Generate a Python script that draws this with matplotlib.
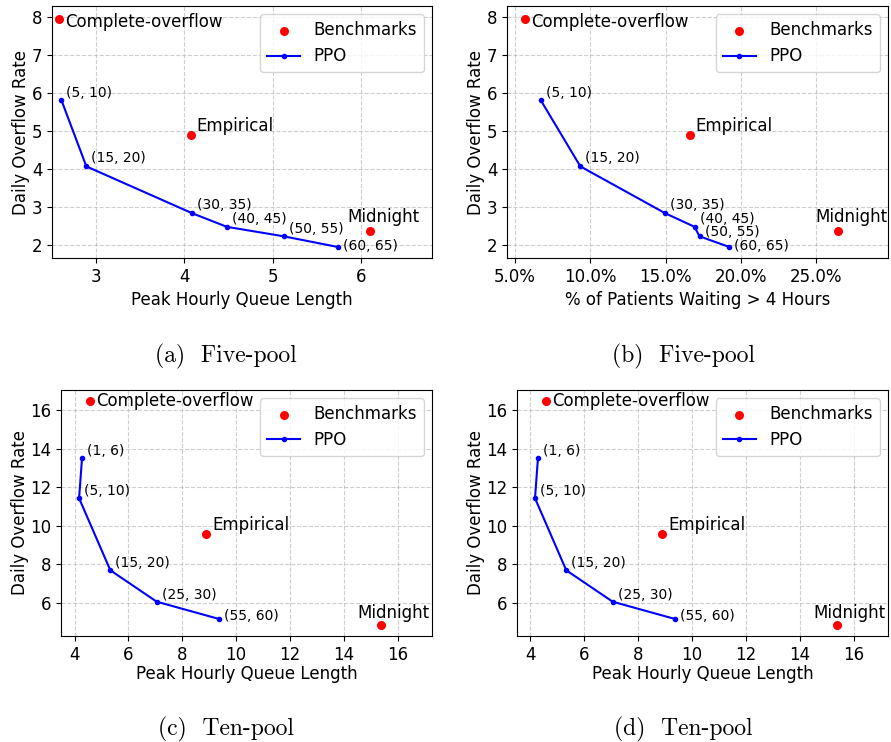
import matplotlib
matplotlib.use("Agg")
import matplotlib.pyplot as plt
from matplotlib.ticker import MultipleLocator, PercentFormatter

# ---------------- data ----------------
bench_names = ["Complete-overflow", "Empirical", "Midnight"]

# Five-pool
five_bench_queue = [2.578, 4.07, 6.10]
five_bench_wait = [0.0566, 0.1659, 0.2646]
five_bench_overflow = [7.97, 4.90, 2.37]

five_ppo_labels = ["(5, 10)", "(15, 20)", "(30, 35)", "(40, 45)", "(50, 55)", "(60, 65)"]
five_ppo_queue = [2.608, 2.891, 4.085, 4.48, 5.124, 5.734]
five_ppo_wait = [0.0670, 0.0934, 0.1496, 0.1692, 0.1725, 0.1923]
five_ppo_overflow = [5.83, 4.08, 2.85, 2.49, 2.24, 1.96]

# Ten-pool
ten_bench_queue = [4.57, 8.88, 15.38]
ten_bench_overflow = [16.45, 9.57, 4.82]

ten_ppo_labels = ["(1, 6)", "(5, 10)", "(15, 20)", "(25, 30)", "(55, 60)"]
ten_ppo_queue = [4.28, 4.17, 5.33, 7.05, 9.37]
ten_ppo_overflow = [13.52, 11.42, 7.68, 6.05, 5.15]

captions = ["(a)  Five-pool", "(b)  Five-pool", "(c)  Ten-pool", "(d)  Ten-pool"]

# ---------------- style ----------------
plt.rcParams["font.family"] = ["DejaVu Sans"]
plt.rcParams["font.size"] = 12

fig = plt.figure(figsize=(8.91, 7.42), dpi=100)

axes_rects = [
    [0.0584, 0.6523, 0.4265, 0.3396],
    [0.5690, 0.6523, 0.4276, 0.3396],
    [0.0685, 0.1429, 0.4164, 0.3315],
    [0.5802, 0.1429, 0.4164, 0.3315],
]

# offsets (pixels) for labels
five_bench_off = [(6, -8), (6, 4), (-23, 9)]
ten_bench_off = [(6, -5), (6, 4), (-24, 7)]
five_ppo_off_a = [(5, 3), (5, 4), (5, 4), (5, 4), (5, 3), (5, -3)]
five_ppo_off_b = [(5, 3), (5, 4), (5, 4), (5, 4), (5, 0), (5, -3)]
ten_ppo_off = [(5, 3), (5, 3), (5, 3), (5, 3), (5, -1)]


def draw(ax, bx, by, boff, px, py, plabels, poff):
    ax.grid(True, linestyle="--", color="#b0b0b0", alpha=0.6, linewidth=0.8)
    ax.set_axisbelow(True)
    ax.scatter(bx, by, s=30, color="red", label="Benchmarks", zorder=3)
    ax.plot(px, py, color="blue", marker=".", markersize=6, linewidth=1.5,
            label="PPO", zorder=2)
    for name, x, y, o in zip(bench_names, bx, by, boff):
        ax.annotate(name, (x, y), xytext=o, textcoords="offset pixels",
                    fontsize=12, ha="left", va="baseline")
    for name, x, y, o in zip(plabels, px, py, poff):
        ax.annotate(name, (x, y), xytext=o, textcoords="offset pixels",
                    fontsize=10, ha="left", va="baseline")
    ax.legend(loc="upper right", fontsize=12)
    ax.set_ylabel("Daily Overflow Rate", fontsize=12, labelpad=1)


# (a)
ax = fig.add_axes(axes_rects[0])
draw(ax, five_bench_queue, five_bench_overflow, five_bench_off,
     five_ppo_queue, five_ppo_overflow, five_ppo_labels, five_ppo_off_a)
ax.set_xlim(2.503, 6.80)
ax.set_ylim(1.67, 8.30)
ax.xaxis.set_major_locator(MultipleLocator(1))
ax.yaxis.set_major_locator(MultipleLocator(1))
ax.set_xlabel("Peak Hourly Queue Length", fontsize=12)

# (b)
ax = fig.add_axes(axes_rects[1])
draw(ax, five_bench_wait, five_bench_overflow, five_bench_off,
     five_ppo_wait, five_ppo_overflow, five_ppo_labels, five_ppo_off_b)
ax.set_xlim(0.0447, 0.2976)
ax.set_ylim(1.67, 8.30)
ax.xaxis.set_major_locator(MultipleLocator(0.05))
ax.xaxis.set_major_formatter(PercentFormatter(xmax=1, decimals=1))
ax.yaxis.set_major_locator(MultipleLocator(1))
ax.set_xlabel("% of Patients Waiting > 4 Hours", fontsize=12)

# (c), (d)
for r in axes_rects[2:]:
    ax = fig.add_axes(r)
    draw(ax, ten_bench_queue, ten_bench_overflow, ten_bench_off,
         ten_ppo_queue, ten_ppo_overflow, ten_ppo_labels, ten_ppo_off)
    ax.set_xlim(3.5, 17.27)
    ax.set_ylim(4.27, 17.04)
    ax.xaxis.set_major_locator(MultipleLocator(2))
    ax.yaxis.set_major_locator(MultipleLocator(2))
    ax.set_xlabel("Peak Hourly Queue Length", fontsize=12, labelpad=1)

cap_pos = [(0.2536, 0.5190), (0.7666, 0.5190), (0.2536, 0.0170), (0.7666, 0.0170)]
for txt, (x, y) in zip(captions, cap_pos):
    fig.text(x, y, txt, ha="center", va="center", fontsize=17, family="cmr10")

fig.savefig("out.png", dpi=100)
